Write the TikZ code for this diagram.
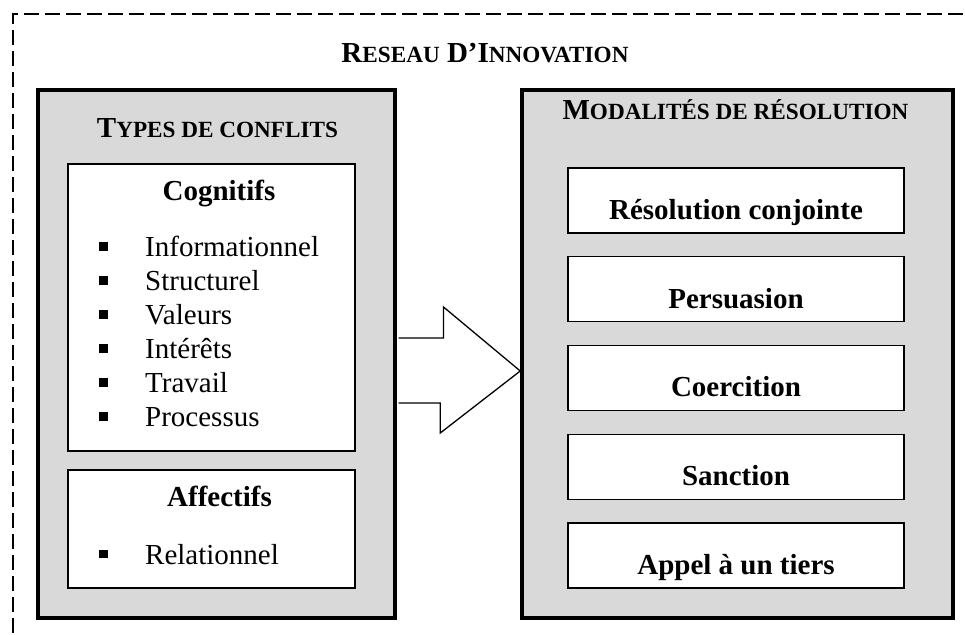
\documentclass[tikz,border=0pt]{standalone}
\usepackage{fontspec}
\setmainfont{Liberation Serif}
\usetikzlibrary{positioning}

\newcommand{\bigfont}{\fontsize{29}{34}\selectfont}
\newcommand{\smc}[1]{{\fontsize{23.2}{27}\selectfont #1}}
\newcommand{\puce}{\makebox[46pt][l]{\rule[6pt]{8.5pt}{8.5pt}}}

\tikzstyle{group} = [rectangle, draw=black, line width=3.5pt, fill=black!15]
\tikzstyle{subgroup} = [rectangle, minimum width=287pt, draw=black, line width=1.4pt, fill=white]
\tikzstyle{mode} = [rectangle, minimum width=336pt, minimum height=65pt, text height=38pt, text depth=0pt, draw=black, line width=1.4pt, fill=white, font=\bigfont\bfseries]
\tikzstyle{heading} = [anchor=base, inner sep=0pt, font=\bigfont\bfseries]
\tikzstyle{item} = [anchor=base west, inner sep=0pt, font=\bigfont]
\tikzstyle{bigarrow} = [line width=1.3pt, fill=white, line join=miter]

\begin{document}
\begin{tikzpicture}[x=1pt, y=1pt, node distance=88.75pt]
		\useasboundingbox (0,0) rectangle (965,634);
		\begin{scope}
			\clip (0,0) rectangle (965,634);
			\draw [line width=2pt, dash pattern=on 15pt off 6pt] (13,-20) rectangle (990,620);
		\end{scope}
		
		\node (reseau) [heading] at (485,571) {R\smc{ESEAU} D’I\smc{NNOVATION}};
		
		% types de conflits
		\node (conflits) [group, minimum width=357pt, minimum height=528pt] at (216.5,280) {};
		\node (tconflits) [heading] at (217.5,496) {T\smc{YPES DE CONFLITS}};
		\node (cognitifs) [subgroup, minimum height=287pt] at (211.5,326.5) {};
		\node (affectifs) [subgroup, minimum height=118pt] at (211.5,105) {};
		
		\node (tcognitifs) [heading] at (219,433) {Cognitifs};
		\node (inf) [item] at (99,377) {\puce Informationnel};
		\node (str) [below=34pt of inf.base west, item] {\puce Structurel};
		\node (val) [below=34pt of str.base west, item] {\puce Valeurs};
		\node (int) [below=34pt of val.base west, item] {\puce Intérêts};
		\node (tra) [below=34pt of int.base west, item] {\puce Travail};
		\node (pro) [below=34pt of tra.base west, item] {\puce Processus};
		
		\node (taffectifs) [heading] at (219.5,127) {Affectifs};
		\node (rel) [item] at (99,70) {\puce Relationnel};
		
		% modalites de resolution
		\node (modalites) [group, minimum width=431pt, minimum height=528pt] at (737.5,280) {};
		\node (tmodalites) [heading] at (735.5,514) {M\smc{ODALITÉS DE RÉSOLUTION}};
		\node (conjointe) [mode] at (736,433.5) {Résolution conjointe};
		\node (persuasion) [mode, below of=conjointe] {Persuasion};
		\node (coercition) [mode, below of=persuasion] {Coercition};
		\node (sanction) [mode, below of=coercition] {Sanction};
		\node (tiers) [mode, below of=sanction] {Appel à un tiers};
		
		\draw [bigarrow] ([xshift=1.75pt, yshift=16pt]conflits.east) -- ++(45,0) -- ++(0,31)
			-- ([yshift=-17pt]modalites.west) -- ++(-80,-62) -- ++(0,30) -- ([xshift=1.75pt, yshift=-49pt]conflits.east);
	
	\end{tikzpicture}
\end{document}
